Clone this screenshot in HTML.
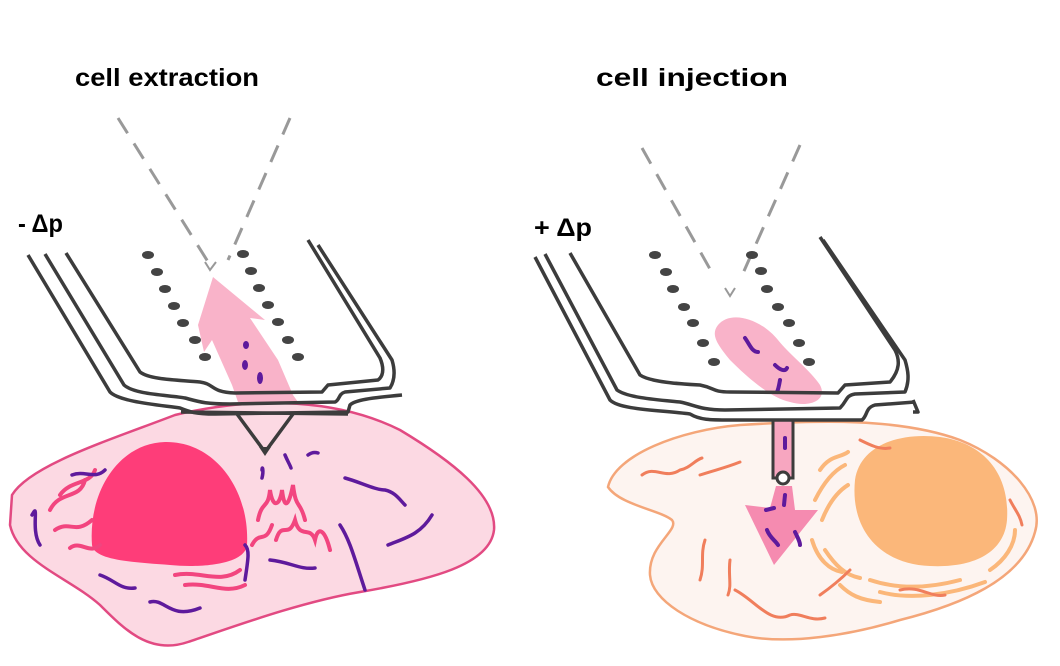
<!DOCTYPE html>
<html><head><meta charset="utf-8"><style>
html,body{margin:0;padding:0;background:#fff;}
svg{display:block;}
text{font-family:"Liberation Sans",sans-serif;font-weight:bold;fill:#000;}
</style></head><body>
<svg width="1060" height="666" viewBox="0 0 1060 666" xmlns="http://www.w3.org/2000/svg">
<!-- labels -->
<text x="75" y="86" font-size="25" textLength="184" lengthAdjust="spacingAndGlyphs">cell extraction</text>
<text x="596" y="86" font-size="25" textLength="192" lengthAdjust="spacingAndGlyphs">cell injection</text>
<text x="18" y="232" font-size="25" textLength="45" lengthAdjust="spacingAndGlyphs">- Δp</text>
<text x="534" y="236" font-size="25" textLength="58" lengthAdjust="spacingAndGlyphs">+ Δp</text>

<!-- LEFT CELL -->
<path d="M12,495 C30,465 110,440 175,415 C260,395 340,400 400,430 C450,460 497,495 494,530 C490,565 430,580 360,592 C300,602 230,628 188,642 C150,655 125,630 100,605 C70,578 18,562 10,525 Z" fill="#fcd9e3" stroke="#e24a82" stroke-width="2.5"/>
<path d="M92,545 C88,490 120,443 165,442 C215,441 250,490 247,545 C245,565 200,568 170,565 C130,562 94,560 92,545 Z" fill="#fe3d79"/>
<g fill="none" stroke="#f2457f" stroke-width="4" stroke-linecap="round">
<path d="M50,510 C60,490 80,500 85,480"/><path d="M55,530 C70,520 75,535 92,520"/><path d="M70,548 C80,540 90,555 100,545"/>
<path d="M60,495 C70,480 90,485 95,470"/><path d="M175,575 C200,570 220,585 240,570"/><path d="M185,585 C210,582 225,595 245,585"/>
<path d="M258,520 C262,500 268,510 270,490 C273,510 280,505 282,490 C285,515 290,500 293,485 C296,510 300,500 305,520"/>
<path d="M252,545 C260,530 265,545 272,525 M276,540 C282,520 288,540 295,520 C300,540 310,525 315,540 C318,525 325,530 330,550"/>
</g>
<g fill="none" stroke="#5e1a9c" stroke-width="3.5" stroke-linecap="round">
<path d="M32,515 C40,500 30,530 40,545"/><path d="M72,475 C85,470 95,480 105,470"/>
<path d="M100,575 C115,580 120,590 135,588"/><path d="M150,602 C165,598 170,620 200,608"/>
<path d="M345,478 C360,482 375,490 385,490 C395,492 400,500 405,505"/><path d="M340,525 C350,540 355,560 365,590 "/>
<path d="M388,545 C405,538 420,535 432,515"/><path d="M270,560 C290,562 300,570 315,568"/>
<path d="M245,580 C248,560 250,550 245,545"/><path d="M308,455 C312,452 315,452 318,453"/>
<path d="M262,478 C264,470 262,465 262,470"/><path d="M285,455 C288,462 290,465 291,468"/>
</g>
<!-- left pipette tip -->
<path d="M237,414 L265,452 L293,414" fill="none" stroke="#3c3c3c" stroke-width="3.5"/>
<path d="M259,447 L271,447 L265,456 Z" fill="#3c3c3c"/>
<!-- left arrow -->
<path d="M213,277 L265,320 L250,318 L278,360 L293,395 L298,402 L238,402 L232,385 L212,340 L204,352 L198,325 Z" fill="#f9b3c9"/>
<g fill="#5e1a9c"><ellipse cx="246" cy="345" rx="3" ry="4"/><ellipse cx="245" cy="365" rx="3" ry="5"/><ellipse cx="260" cy="378" rx="3" ry="6"/></g>
<!-- left dashed -->
<g stroke="#999" stroke-width="3" stroke-dasharray="18,12" fill="none"><path d="M118,118 L210,265"/><path d="M290,118 L228,260"/></g>
<path d="M205,262 L210,270 L216,262" stroke="#999" stroke-width="2" fill="none"/>
<!-- left dots -->
<g fill="#444">
<ellipse cx="148" cy="255" rx="6" ry="4"/><ellipse cx="157" cy="272" rx="6" ry="4"/><ellipse cx="165" cy="289" rx="6" ry="4"/><ellipse cx="174" cy="306" rx="6" ry="4"/><ellipse cx="183" cy="323" rx="6" ry="4"/><ellipse cx="195" cy="340" rx="6" ry="4"/><ellipse cx="205" cy="357" rx="6" ry="4"/>
<ellipse cx="243" cy="254" rx="6" ry="4"/><ellipse cx="251" cy="271" rx="6" ry="4"/><ellipse cx="259" cy="288" rx="6" ry="4"/><ellipse cx="268" cy="305" rx="6" ry="4"/><ellipse cx="278" cy="322" rx="6" ry="4"/><ellipse cx="288" cy="340" rx="6" ry="4"/><ellipse cx="298" cy="357" rx="6" ry="4"/>
</g>
<!-- left pipette walls -->
<g fill="none" stroke="#3c3c3c" stroke-width="3.5" stroke-linejoin="round">
<path d="M66,253 L140,372 C150,380 180,380 200,382 C215,384 210,392 235,393 L322,392 L328,385 L378,380 C385,375 383,365 380,358 L308,240"/>
<path d="M45,254 L124,385 C135,395 170,395 185,398 C200,402 205,404 230,404 L335,402 C340,400 338,394 345,392 L390,388 C395,380 395,370 392,360 L318,245"/>
<path d="M28,255 L110,392 C120,402 160,405 180,408 C190,412 195,414 215,414 L348,412 L350,405 C355,400 370,398 402,395"/>
<path d="M181,412 L348,414"/>
</g>

<!-- RIGHT CELL -->
<path d="M608,487 C615,455 680,430 740,425 C820,420 900,418 960,440 C1010,460 1045,500 1035,532 C1022,580 960,605 900,620 C850,635 790,645 745,636 C690,625 652,600 650,575 C648,545 680,530 672,520 C660,510 620,505 608,487 Z" fill="#fdf4f0" stroke="#f4a679" stroke-width="2.5"/>
<path d="M855,480 C860,445 900,432 940,437 C985,443 1010,475 1007,520 C1004,555 970,568 930,566 C880,564 850,530 855,480 Z" fill="#fbb77a"/>
<g fill="none" stroke="#fbb77a" stroke-width="4" stroke-linecap="round">
<path d="M820,470 C830,455 840,458 848,452"/><path d="M815,500 C825,480 835,470 845,465"/><path d="M822,520 C830,500 840,490 848,485"/>
<path d="M812,540 C818,560 830,570 842,572"/><path d="M825,550 C835,565 845,575 860,578"/><path d="M870,580 C900,590 930,588 960,580"/>
<path d="M880,592 C910,600 950,595 985,582"/><path d="M990,570 C1005,560 1015,545 1015,530"/><path d="M840,585 C850,595 860,600 880,602"/>
</g>
<g fill="none" stroke="#f07e5c" stroke-width="3" stroke-linecap="round">
<path d="M642,475 C655,465 665,480 680,470 C690,468 695,460 702,458"/><path d="M700,475 C715,470 725,468 740,462"/>
<path d="M705,540 C700,555 705,565 700,580"/><path d="M730,560 C728,575 732,585 728,595"/>
<path d="M735,590 C755,600 770,625 790,615 C800,612 810,622 825,618"/><path d="M860,440 C870,445 880,450 890,448"/>
<path d="M1010,500 C1015,510 1020,515 1022,525"/><path d="M820,595 C830,588 840,580 850,570"/><path d="M900,590 C920,585 930,598 945,595"/>
</g>
<!-- right pink blob -->
<path d="M718,325 C730,310 760,318 778,340 C790,355 810,370 820,385 C828,400 810,408 790,402 C770,398 745,375 730,360 C718,345 710,335 718,325 Z" fill="#f9b3c9"/>
<!-- tube -->
<rect x="773" y="420" width="20" height="58" fill="#f7a6c0" stroke="#3c3c3c" stroke-width="3"/>
<circle cx="783" cy="478" r="6" fill="#fff" stroke="#3c3c3c" stroke-width="3"/>
<!-- down arrow -->
<path d="M776,486 L792,486 L795,510 L818,510 L774,565 L745,505 L770,508 Z" fill="#f58bb0"/>
<g fill="none" stroke="#5e1a9c" stroke-width="4" stroke-linecap="round">
<path d="M745,338 C750,345 752,352 758,352"/><path d="M775,365 C780,370 785,372 787,368"/><path d="M780,380 C779,386 778,390 777,392"/>
<path d="M785,438 L785,448"/><path d="M785,495 L784,505"/><path d="M766,510 L774,508"/><path d="M767,530 C770,538 775,540 778,545"/><path d="M795,532 C798,538 800,542 800,545"/>
</g>
<!-- right dashed -->
<g stroke="#999" stroke-width="3" stroke-dasharray="18,12" fill="none"><path d="M642,148 L715,278"/><path d="M800,145 L740,280"/></g>
<path d="M725,288 L730,296 L735,288" stroke="#999" stroke-width="2" fill="none"/>
<!-- right dots -->
<g fill="#444">
<ellipse cx="655" cy="255" rx="6" ry="4"/><ellipse cx="666" cy="272" rx="6" ry="4"/><ellipse cx="673" cy="289" rx="6" ry="4"/><ellipse cx="684" cy="307" rx="6" ry="4"/><ellipse cx="693" cy="323" rx="6" ry="4"/><ellipse cx="703" cy="343" rx="6" ry="4"/><ellipse cx="714" cy="362" rx="6" ry="4"/>
<ellipse cx="752" cy="255" rx="6" ry="4"/><ellipse cx="761" cy="271" rx="6" ry="4"/><ellipse cx="767" cy="289" rx="6" ry="4"/><ellipse cx="778" cy="307" rx="6" ry="4"/><ellipse cx="789" cy="323" rx="6" ry="4"/><ellipse cx="799" cy="343" rx="6" ry="4"/><ellipse cx="809" cy="362" rx="6" ry="4"/>
</g>
<!-- right pipette walls -->
<g fill="none" stroke="#3c3c3c" stroke-width="3.5" stroke-linejoin="round">
<path d="M570,253 L640,375 C650,382 680,384 700,385 C715,388 712,392 730,392 L838,393 L845,385 L890,382 C900,370 900,360 895,350 L820,237"/>
<path d="M545,254 L617,390 C628,398 660,400 680,402 C695,405 700,410 725,410 L840,408 C848,400 845,396 855,394 L905,392 C910,380 908,370 905,360 L823,240"/>
<path d="M535,257 L610,400 C620,410 660,410 690,414 C700,420 710,420 730,420 L862,420 C868,415 865,408 875,405 L915,402"/>
<path d="M913,400 L918,412 L913,412"/>
</g>
</svg>
</body></html>
